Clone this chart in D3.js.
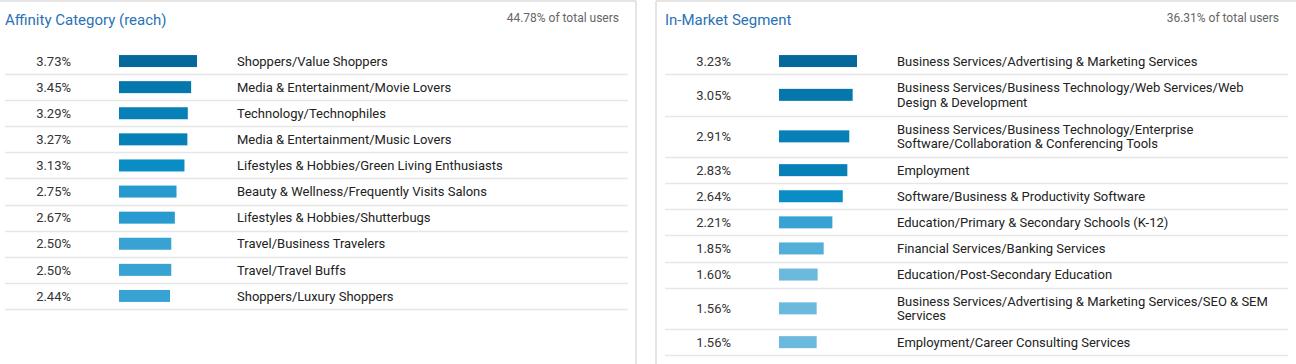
<!DOCTYPE html>
<html>
<head>
<meta charset="utf-8">
<script src="https://cdn.jsdelivr.net/npm/d3@7"></script>
<style>
  html, body { margin: 0; padding: 0; background: #fff; }
  svg { display: block; font-family: Roboto, "Noto Sans", sans-serif; }
</style>
</head>
<body>
<svg id="chart" width="1296" height="364"></svg>
<script>
// ---------- data ----------
const panelTitles = ["Affinity Category (reach)", "In-Market Segment"];
const panelTotals = ["44.78% of total users", "36.31% of total users"];

const affinityCategories = [
  "Shoppers/Value Shoppers",
  "Media & Entertainment/Movie Lovers",
  "Technology/Technophiles",
  "Media & Entertainment/Music Lovers",
  "Lifestyles & Hobbies/Green Living Enthusiasts",
  "Beauty & Wellness/Frequently Visits Salons",
  "Lifestyles & Hobbies/Shutterbugs",
  "Travel/Business Travelers",
  "Travel/Travel Buffs",
  "Shoppers/Luxury Shoppers"
];
const affinityValues = [3.73, 3.45, 3.29, 3.27, 3.13, 2.75, 2.67, 2.50, 2.50, 2.44];

const inMarketCategories = [
  "Business Services/Advertising & Marketing Services",
  "Business Services/Business Technology/Web Services/Web Design & Development",
  "Business Services/Business Technology/Enterprise Software/Collaboration & Conferencing Tools",
  "Employment",
  "Software/Business & Productivity Software",
  "Education/Primary & Secondary Schools (K-12)",
  "Financial Services/Banking Services",
  "Education/Post-Secondary Education",
  "Business Services/Advertising & Marketing Services/SEO & SEM Services",
  "Employment/Career Consulting Services"
];
const inMarketValues = [3.23, 3.05, 2.91, 2.83, 2.64, 2.21, 1.85, 1.60, 1.56, 1.56];

// ---------- drawing ----------
const svg = d3.select("#chart");

// colour by share of the panel's largest value
const colorScale = d3.scaleThreshold()
  .domain([0.5, 0.6, 0.7, 0.8, 0.86, 0.92, 0.95])
  .range(["#6bb9dd", "#52afd8", "#38a3d3", "#279bd0", "#0a8dc5", "#0680b7", "#0677ad", "#05699b"]);

const panels = [
  { x: 0, title: panelTitles[0], total: panelTotals[0], cats: affinityCategories, vals: affinityValues, border: [[0, 1, 636, 1], [636, 1, 636, 364]] },
  { x: 660, title: panelTitles[1], total: panelTotals[1], cats: inMarketCategories, vals: inMarketValues, border: [[656, 1, 1296, 1], [656, 1, 656, 364]] }
];

const labelWrapWidth = 385;
const lineH = 14.5;

function wrapLines(text, width, measure) {
  const words = text.split(" ");
  const lines = [];
  let cur = "";
  words.forEach(w => {
    const test = cur ? cur + " " + w : w;
    measure.text(test);
    if (cur && measure.node().getComputedTextLength() > width) {
      lines.push(cur);
      cur = w;
    } else {
      cur = test;
    }
  });
  if (cur) lines.push(cur);
  return lines;
}

const measure = svg.append("text").attr("font-size", 13).attr("visibility", "hidden");

panels.forEach(p => {
  // borders
  p.border.forEach(b => {
    svg.append("line")
      .attr("x1", b[0]).attr("y1", b[1]).attr("x2", b[2]).attr("y2", b[3])
      .attr("stroke", "#dcdcdc").attr("stroke-width", 1.5);
  });

  const g = svg.append("g").attr("transform", `translate(${p.x},0)`);

  g.append("text")
    .attr("x", 5).attr("y", 25)
    .attr("font-size", 15)
    .attr("fill", "#2a72b5")
    .text(p.title);

  g.append("text")
    .attr("x", 619).attr("y", 21.5)
    .attr("text-anchor", "end")
    .attr("font-size", 12)
    .attr("fill", "#666")
    .text(p.total);

  const maxV = d3.max(p.vals);
  const xScale = d3.scaleLinear().domain([0, maxV]).range([0, 78]);

  let y = 48;
  p.cats.forEach((c, i) => {
    const v = p.vals[i];
    const lines = wrapLines(c, labelWrapWidth, measure);
    const h = lines.length > 1 ? 12.5 + lines.length * lineH : 26.1;
    const cy = y + h / 2;

    g.append("text")
      .attr("x", 71).attr("y", cy)
      .attr("dy", "0.36em")
      .attr("text-anchor", "end")
      .attr("font-size", 13)
      .attr("fill", "#333")
      .text(d3.format(".2f")(v) + "%");

    g.append("rect")
      .attr("x", 119).attr("y", cy - 6)
      .attr("width", xScale(v)).attr("height", 12)
      .attr("fill", colorScale(v / maxV));

    const t = g.append("text")
      .attr("x", 237)
      .attr("font-size", 13)
      .attr("fill", "#222");
    lines.forEach((ln, k) => {
      t.append("tspan")
        .attr("x", 237)
        .attr("y", cy + (k - (lines.length - 1) / 2) * lineH)
        .attr("dy", "0.36em")
        .text(ln);
    });

    y += h;
    g.append("line")
      .attr("x1", 5).attr("x2", 628)
      .attr("y1", Math.round(y) + 0.5).attr("y2", Math.round(y) + 0.5)
      .attr("stroke", "#e6e6e6").attr("stroke-width", 1.5);
  });
});
measure.remove();
</script>
</body>
</html>
